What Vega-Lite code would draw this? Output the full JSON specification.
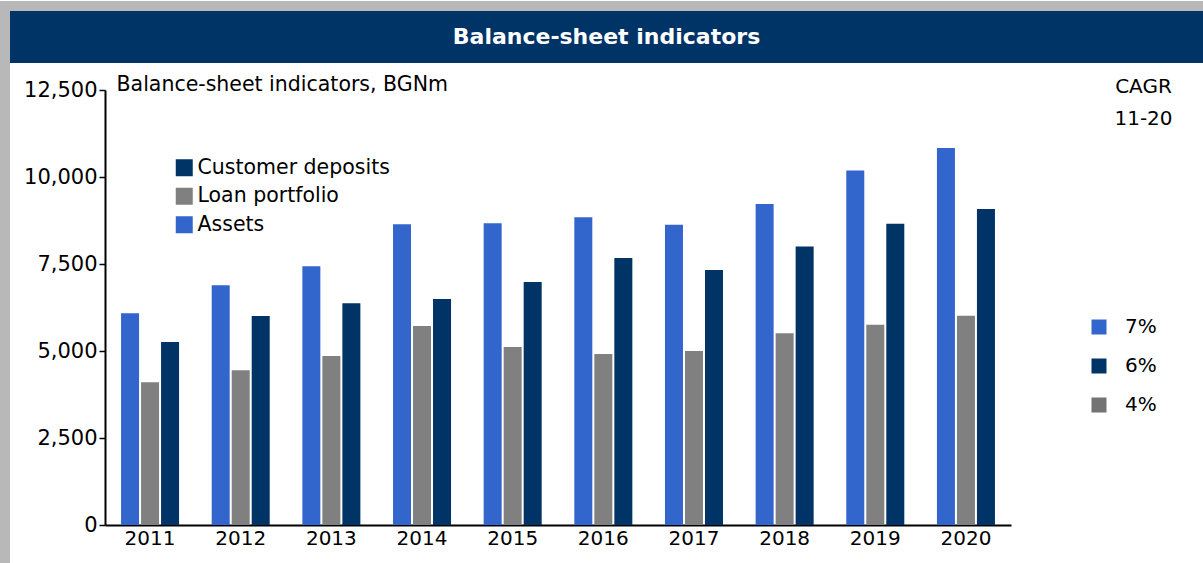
{
  "$schema": "https://vega.github.io/schema/vega-lite/v6.json",
  "background": "white",
  "padding": 0,
  "spacing": 0,
  "config": {"view": {"stroke": null}, "font": "DejaVu Sans"},
  "vconcat": [
    {
      "width": 1203, "height": 10,
      "data": {"values": [{"t": ""}]},
      "mark": {"type": "text"},
      "encoding": {"text": {"field": "t"}},
      "view": {"fill": "#b8b8b8", "stroke": null}
    },
    {
      "spacing": 0,
      "hconcat": [
        {
          "width": 10, "height": 553,
          "data": {"values": [{"t": ""}]},
          "mark": {"type": "text"},
          "encoding": {"text": {"field": "t"}},
          "view": {"fill": "#b8b8b8", "stroke": null}
        },
        {
          "spacing": 11,
          "vconcat": [
            {
              "width": 1193, "height": 52,
              "data": {"values": [{"t": "Balance-sheet indicators"}]},
              "mark": {"type": "text", "color": "white", "font": "DejaVu Sans", "fontSize": 22, "fontWeight": "bold"},
              "encoding": {"text": {"field": "t"}},
              "view": {"fill": "#003366", "stroke": null}
            },
            {
              "spacing": 0,
              "bounds": "flush",
              "hconcat": [
                {
                  "width": 95, "height": 435,
                  "data": {"values": [{"t": ""}]},
                  "mark": {"type": "text"},
                  "encoding": {"text": {"field": "t"}}
                },
                {
                  "width": 906, "height": 435,
                  "data": {"values": [
                    {"year": "2011", "series": "Assets", "cagr": "7%", "value": 6083},
                    {"year": "2011", "series": "Loan portfolio", "cagr": "4%", "value": 4100},
                    {"year": "2011", "series": "Customer deposits", "cagr": "6%", "value": 5259},
                    {"year": "2012", "series": "Assets", "cagr": "7%", "value": 6888},
                    {"year": "2012", "series": "Loan portfolio", "cagr": "4%", "value": 4445},
                    {"year": "2012", "series": "Customer deposits", "cagr": "6%", "value": 6006},
                    {"year": "2013", "series": "Assets", "cagr": "7%", "value": 7434},
                    {"year": "2013", "series": "Loan portfolio", "cagr": "4%", "value": 4856},
                    {"year": "2013", "series": "Customer deposits", "cagr": "6%", "value": 6371},
                    {"year": "2014", "series": "Assets", "cagr": "7%", "value": 8640},
                    {"year": "2014", "series": "Loan portfolio", "cagr": "4%", "value": 5718},
                    {"year": "2014", "series": "Customer deposits", "cagr": "6%", "value": 6494},
                    {"year": "2015", "series": "Assets", "cagr": "7%", "value": 8669},
                    {"year": "2015", "series": "Loan portfolio", "cagr": "4%", "value": 5115},
                    {"year": "2015", "series": "Customer deposits", "cagr": "6%", "value": 6983},
                    {"year": "2016", "series": "Assets", "cagr": "7%", "value": 8842},
                    {"year": "2016", "series": "Loan portfolio", "cagr": "4%", "value": 4914},
                    {"year": "2016", "series": "Customer deposits", "cagr": "6%", "value": 7672},
                    {"year": "2017", "series": "Assets", "cagr": "7%", "value": 8630},
                    {"year": "2017", "series": "Loan portfolio", "cagr": "4%", "value": 5000},
                    {"year": "2017", "series": "Customer deposits", "cagr": "6%", "value": 7328},
                    {"year": "2018", "series": "Assets", "cagr": "7%", "value": 9224},
                    {"year": "2018", "series": "Loan portfolio", "cagr": "4%", "value": 5508},
                    {"year": "2018", "series": "Customer deposits", "cagr": "6%", "value": 8005},
                    {"year": "2019", "series": "Assets", "cagr": "7%", "value": 10190},
                    {"year": "2019", "series": "Loan portfolio", "cagr": "4%", "value": 5756},
                    {"year": "2019", "series": "Customer deposits", "cagr": "6%", "value": 8659},
                    {"year": "2020", "series": "Assets", "cagr": "7%", "value": 10830},
                    {"year": "2020", "series": "Loan portfolio", "cagr": "4%", "value": 6014},
                    {"year": "2020", "series": "Customer deposits", "cagr": "6%", "value": 9083}
                  ]},
                  "mark": {"type": "bar", "strokeWidth": 0},
                  "encoding": {
                    "x": {
                      "field": "year", "type": "ordinal",
                      "scale": {"paddingInner": 0.36, "paddingOuter": 0.177},
                      "axis": {"title": ["CAGR", "11-20"], "titleX": 1038, "titleY": -439, "titleAlign": "center",
                               "titleBaseline": "middle", "titleLineHeight": 32, "titleFont": "DejaVu Sans",
                               "titleFontSize": 20, "titleFontWeight": "normal", "titleColor": "black",
                               "labelAngle": 0, "ticks": false, "domainColor": "black", "domainWidth": 2,
                               "labelFont": "DejaVu Sans", "labelFontSize": 20, "labelColor": "black", "labelPadding": 3}
                    },
                    "xOffset": {
                      "field": "series", "type": "nominal",
                      "sort": ["Assets", "Loan portfolio", "Customer deposits"],
                      "scale": {"paddingInner": 0.1, "paddingOuter": 0}
                    },
                    "y": {
                      "field": "value", "type": "quantitative",
                      "scale": {"domain": [0, 12500], "nice": false},
                      "axis": {
                        "title": "Balance-sheet indicators, BGNm", "titleAngle": 0, "titleX": 11, "titleY": 0,
                        "titleAlign": "left", "titleBaseline": "alphabetic", "titleFont": "DejaVu Sans",
                        "titleFontSize": 20.5, "titleFontWeight": "normal", "titleColor": "black",
                        "values": [0, 2500, 5000, 7500, 10000, 12500], "format": ",.0f", "grid": false,
                        "tickSize": 6, "tickColor": "black", "tickWidth": 1.5,
                        "domainColor": "black", "domainWidth": 2, "labelPadding": 2,
                        "labelFont": "DejaVu Sans", "labelFontSize": 21, "labelColor": "black"
                      }
                    },
                    "color": {
                      "field": "series", "type": "nominal",
                      "scale": {"domain": ["Customer deposits", "Loan portfolio", "Assets"], "range": ["#003366", "#808080", "#3366CC"]},
                      "legend": {
                        "title": null, "orient": "none", "legendX": 174, "legendY": 156.5, "padding": 0,
                        "symbolType": "square", "symbolSize": 289, "symbolStrokeWidth": 0,
                        "labelFont": "DejaVu Sans", "labelFontSize": 20.5, "labelColor": "black", "labelLimit": 400,
                        "labelOffset": 3, "rowPadding": 7.5
                      }
                    },
                    "stroke": {
                      "field": "cagr", "type": "nominal",
                      "scale": {"domain": ["7%", "6%", "4%"], "range": ["#3366CC", "#003366", "#737373"]},
                      "legend": {
                        "title": null, "orient": "none", "legendX": 1089, "legendY": 316, "padding": 0,
                        "symbolType": "square", "symbolSize": 49, "symbolStrokeWidth": 8,
                        "labelFont": "DejaVu Sans", "labelFontSize": 20, "labelColor": "black",
                        "labelOffset": 16, "rowPadding": -1
                      }
                    }
                  }
                }
              ]
            }
          ]
        }
      ]
    }
  ]
}
